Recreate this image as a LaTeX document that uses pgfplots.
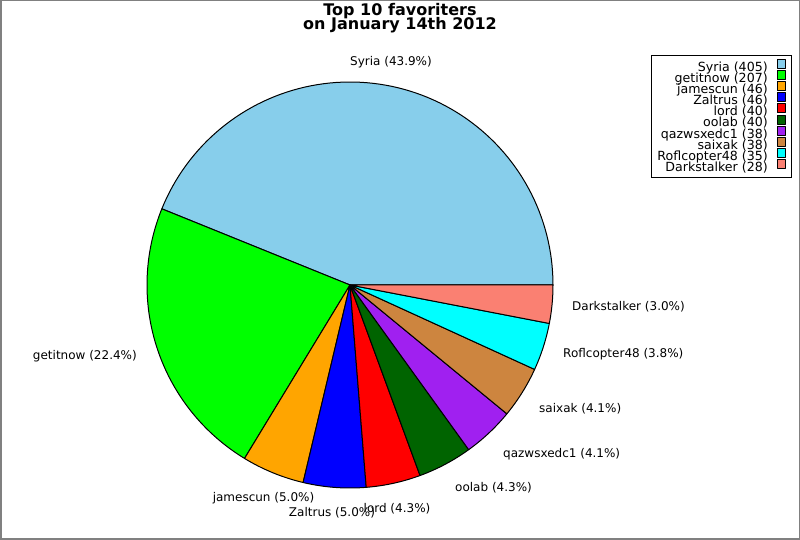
\documentclass[border=0pt]{standalone}
\usepackage{fontspec}
\setmainfont{DejaVu Sans}
\usepackage{pgfplots}
\pgfplotsset{compat=1.18}
\definecolor{cSyria}{RGB}{135,206,235}
\definecolor{cGet}{RGB}{0,255,0}
\definecolor{cJam}{RGB}{255,165,0}
\definecolor{cZal}{RGB}{0,0,255}
\definecolor{cLord}{RGB}{255,0,0}
\definecolor{cOol}{RGB}{0,100,0}
\definecolor{cQaz}{RGB}{160,32,240}
\definecolor{cSai}{RGB}{205,133,63}
\definecolor{cRof}{RGB}{0,255,255}
\definecolor{cDark}{RGB}{250,128,114}
\newcommand\lbl{\fontsize{12}{14}\selectfont}
\newcommand\legfont{\fontsize{12.6}{14}\selectfont}
\def\total{923}
\def\cum{0}
% #1 value, #2 colour, #3 legend text
\newcommand\slice[3]{%
  \pgfmathsetmacro\angA{\cum/\total*360}%
  \pgfmathsetmacro\angB{(\cum+#1)/\total*360}%
  \pgfmathsetmacro\newcum{\cum+#1}%
  \xdef\cum{\newcum}%
  \edef\doit{\noexpand\addplot[fill=#2, draw=black, line width=1pt, line join=round, domain=\angA:\angB, samples=90, variable=\noexpand\t] ({350+203*cos(\noexpand\t)},{255+203*sin(\noexpand\t)}) -- (axis cs:350,255) -- cycle;}%
  \doit
  \addlegendentry{#3}%
}
\begin{document}
\begin{tikzpicture}
\begin{axis}[
  scale only axis, width=800pt, height=540pt,
  xmin=0, xmax=800, ymin=0, ymax=540,
  hide axis, clip=false,
  legend plot pos=right,
  legend cell align=right,
  legend image code/.code={\draw[#1, line width=0.8pt] (0pt,-0.3pt) rectangle (8pt,8.7pt);},
  legend style={at={(0.99,0.898)}, anchor=north east, font=\legfont,
    draw=black, line width=1pt, inner xsep=6pt, inner ysep=3.5pt,
    row sep=-3.5pt, column sep=9pt,
    nodes={inner sep=0pt, text height=8.8pt, text depth=2.2pt}},
  every axis plot/.append style={},
]
\slice{405}{cSyria}{Syria (405)}
\slice{207}{cGet}{getitnow (207)}
\slice{46}{cJam}{jamescun (46)}
\slice{46}{cZal}{Zaltrus (46)}
\slice{40}{cLord}{lord (40)}
\slice{40}{cOol}{oolab (40)}
\slice{38}{cQaz}{qazwsxedc1 (38)}
\slice{38}{cSai}{saixak (38)}
\slice{35}{cRof}{Roflcopter48 (35)}
\slice{28}{cDark}{Darkstalker (28)}

\draw[gray, line width=1.5pt] (axis cs:0.75,0.75) rectangle (axis cs:799.25,539.25);

\node[font=\bfseries\fontsize{16}{16}\selectfont, anchor=base] at (axis cs:400,524.3) {Top 10 favoriters};
\node[font=\bfseries\fontsize{16}{16}\selectfont, anchor=base] at (axis cs:400,510.2) {on January 14th 2012};

\begin{scope}[every node/.style={font=\lbl, inner sep=0pt}]
\node[anchor=center] at (axis cs:391,478) {Syria (43.9\%)};
\node[anchor=east] at (axis cs:137,184) {getitnow (22.4\%)};
\node[anchor=center] at (axis cs:263.5,42) {jamescun (5.0\%)};
\node[anchor=center] at (axis cs:332,27) {Zaltrus (5.0\%)};
\node[anchor=center] at (axis cs:397,31) {lord (4.3\%)};
\node[anchor=west] at (axis cs:455,52) {oolab (4.3\%)};
\node[anchor=west] at (axis cs:503,86) {qazwsxedc1 (4.1\%)};
\node[anchor=west] at (axis cs:539,131) {saixak (4.1\%)};
\node[anchor=west] at (axis cs:563,186) {Roflcopter48 (3.8\%)};
\node[anchor=west] at (axis cs:572,233) {Darkstalker (3.0\%)};
\end{scope}
\end{axis}
\end{tikzpicture}
\end{document}
